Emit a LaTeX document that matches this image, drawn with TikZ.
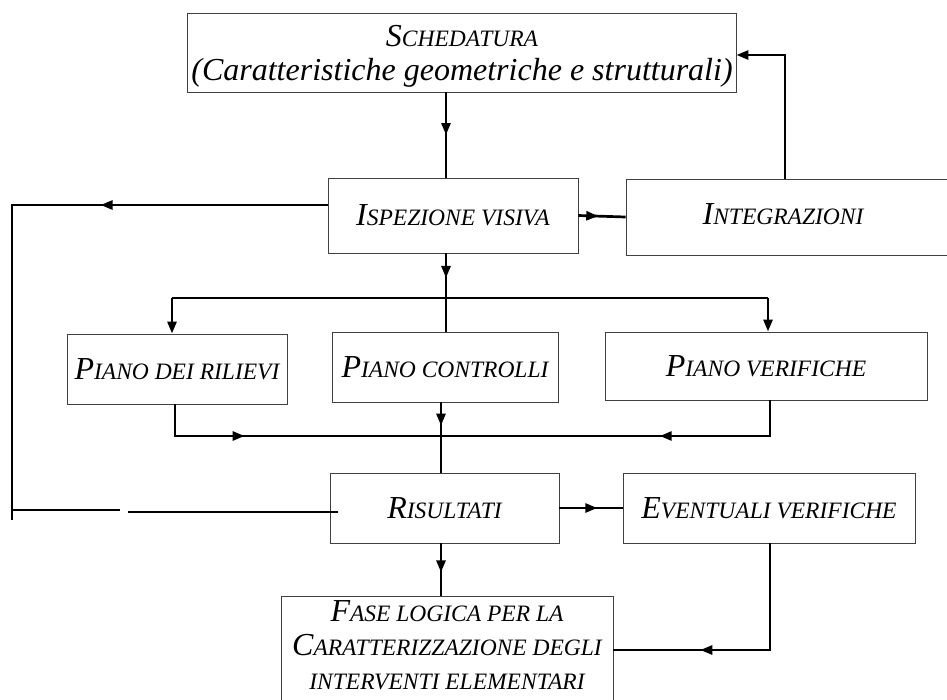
\documentclass[tikz,border=0pt]{standalone}
\usepackage{fontspec}
\setmainfont{Liberation Serif}[ItalicFont={Liberation Serif Italic}]
\usetikzlibrary{arrows.meta,decorations.markings}
% full-size initial inside a small-caps style label
\newcommand{\Ini}[1]{{\fontsize{32}{34}\selectfont #1}}
\begin{document}
\begin{tikzpicture}[x=1pt,y=-1pt,
  >={Triangle[length=12pt,width=9pt]},
  box/.style={draw=black!75, line width=0.9pt, fill=white, inner sep=0pt,
    font=\itshape\fontsize{23.5}{34}\selectfont, align=center},
  txt/.style={inner sep=0pt, font=\itshape\fontsize{23.5}{34}\selectfont, align=center},
  conn/.style={line width=2.7pt, line join=miter},
  midarrow/.style={postaction={decorate},
    decoration={markings, mark=at position #1 with {\arrow{>}}}}]
\useasboundingbox (0,0) rectangle (947,699);

% boxes
\node[box, minimum width=549pt, minimum height=79pt] (sched) at (461.5,52.5) {};
\node[txt] (schedtxt) at (462,56)
  {\Ini{S}CHEDATURA\\ \Ini{(Caratteristiche geometriche e strutturali)}};
\node[box, minimum width=250pt, minimum height=75pt] (isp) at (453,215.5)
  {\Ini{I}SPEZIONE VISIVA};
\node[box, minimum width=330pt, minimum height=76pt] (integ) at (791,217) {};
\node[txt] (integtxt) at (783,214) {\Ini{I}NTEGRAZIONI};
\node[box, minimum width=220pt, minimum height=70pt] (ril) at (177,369)
  {\Ini{P}IANO DEI RILIEVI};
\node[box, minimum width=226pt, minimum height=70pt] (ctrl) at (445,367)
  {\Ini{P}IANO CONTROLLI};
\node[box, minimum width=322pt, minimum height=68pt] (ver) at (766,366)
  {\Ini{P}IANO VERIFICHE};
\node[box, minimum width=229pt, minimum height=70pt] (ris) at (444.5,508)
  {\Ini{R}ISULTATI};
\node[box, minimum width=292pt, minimum height=70pt] (ev) at (769,508)
  {\Ini{E}VENTUALI VERIFICHE};
\node[box, minimum width=332pt, minimum height=134pt, anchor=north] (fasebox) at (447,596) {};
\node[txt] (fase) at (447,645)
  {\Ini{F}ASE LOGICA PER LA\\ \Ini{C}ARATTERIZZAZIONE DEGLI\\ INTERVENTI ELEMENTARI};

% routing points
\coordinate (spine) at (446,298);
\coordinate (busL) at (172,298);
\coordinate (busR) at (768,298);
\coordinate (join) at (441,436);
\coordinate (rilout) at (175,436);
\coordinate (verout) at (770,436);
\coordinate (back) at (785,55);
\coordinate (loopT) at (12,205);
\coordinate (loopEnd) at (12,520);
\coordinate (loopB) at (12,510);
\coordinate (gapL) at (120,510);
\coordinate (gapR) at (128,512);
\coordinate (feed) at (770,650);

% connectors
\draw[conn, midarrow=0.5] (sched.south -| spine) -- (isp.north -| spine);
\draw[conn, midarrow=0.55] (isp.south -| spine) -- (spine);
\draw[conn] (busL) -- (busR);
\draw[conn] (spine) -- (ctrl.north -| spine);
\draw[conn,->] (busL) -- (ril.north -| busL);
\draw[conn,->] (busR) -- (ver.north -| busR);
\draw[conn, midarrow=0.34] (ril.south -| rilout) -- (rilout) -- (join);
\draw[conn, midarrow=0.40] (ver.south -| verout) -- (verout) -- (join);
\draw[conn, midarrow=0.33] (ctrl.south -| join) -- (ris.north -| join);
\draw[conn, midarrow=0.55] (ris.south -| join) -- (fasebox.north -| join);
\draw[conn, midarrow=0.6] (ris.east) -- (ev.west);
\draw[conn, midarrow=0.42] (isp.east) -- (integ.west);
\draw[conn,->] (integ.north -| back) -- (back) -- (sched.east |- back);
\draw[conn, midarrow=0.36] (isp.west |- loopT) -- (loopT) -- (loopEnd);
\draw[conn] ([xshift=8pt]ris.west |- gapR) -- (gapR);
\draw[conn] (gapL) -- (loopB);
\draw[conn, midarrow=0.67] (ev.south -| feed) -- (feed) -- (fasebox.east |- feed);
\end{tikzpicture}
\end{document}
